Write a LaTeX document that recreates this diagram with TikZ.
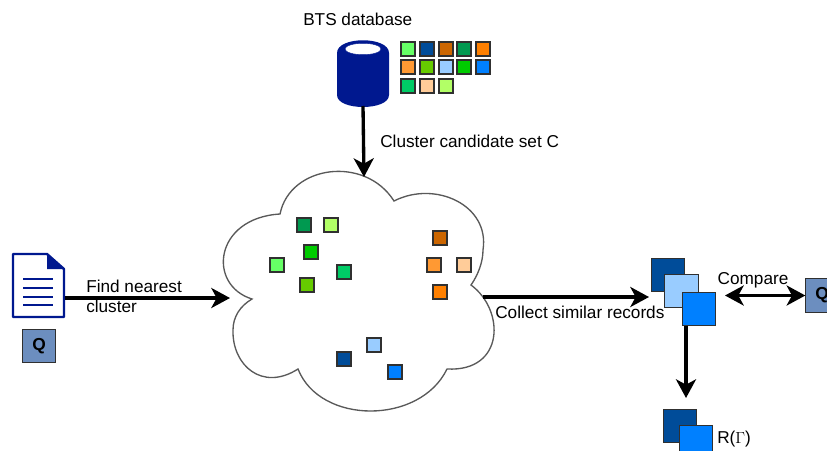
\documentclass[tikz,border=0pt]{standalone}
\usepackage{fontspec}
\setmainfont{Liberation Sans}
\usetikzlibrary{arrows.meta,shapes.geometric}
\definecolor{cA}{HTML}{66FF66}
\definecolor{cB}{HTML}{004C99}
\definecolor{cC}{HTML}{CC6600}
\definecolor{cD}{HTML}{009950}
\definecolor{cE}{HTML}{FF8000}
\definecolor{cF}{HTML}{FF9933}
\definecolor{cG}{HTML}{66CC00}
\definecolor{cH}{HTML}{99CCFF}
\definecolor{cI}{HTML}{00CC00}
\definecolor{cJ}{HTML}{0080FF}
\definecolor{cK}{HTML}{00CC66}
\definecolor{cL}{HTML}{FFCC99}
\definecolor{cM}{HTML}{B2FF66}
\definecolor{navy}{HTML}{00188F}
\definecolor{qblue}{HTML}{6C8EBF}
\definecolor{edge}{HTML}{303030}
\tikzset{
  cell/.style={rectangle,draw=edge,line width=1.1pt,minimum size=10.2pt,inner sep=0pt,outer sep=0pt},
  big/.style={rectangle,draw=edge,line width=0.9pt,minimum size=25pt,inner sep=0pt,outer sep=0pt},
  lab/.style={inner sep=0pt,font=\fontsize{12.9pt}{15pt}\selectfont},
  flow/.style={line width=2.5pt,-{Stealth[length=14pt,width=15pt,inset=4pt]}},
  both/.style={line width=2.5pt,{Stealth[length=14pt,width=15pt,inset=4pt]}-{Stealth[length=14pt,width=15pt,inset=4pt]}},
}
\begin{document}
\begin{tikzpicture}[x=0.75pt,y=-0.75pt]
\useasboundingbox (0,0) rectangle (827,450);
\clip (0,0) rectangle (827,450);
% cloud
\draw[line width=1pt,draw=black!65,fill=white]
  (252,299) .. controls (207,285) and (214,218) .. (280,214)
  .. controls (290,165) and (365,155) .. (394,201)
  .. controls (435,180) and (490,205) .. (483,250)
  .. controls (483,262) and (478,275) .. (471,285)
  .. controls (505,310) and (505,372) .. (447,369)
  .. controls (420,425) and (320,425) .. (298,369)
  .. controls (262,392) and (232,365) .. (233,330)
  .. controls (233,317) and (240,306) .. (252,299) -- cycle;
\coordinate (cloudW) at (230,298);
\coordinate (cloudN) at (364,177);
\coordinate (cloudE) at (483,297);
% database
\fill[navy] (337,53) .. controls (337,36) and (389,36) .. (389,53) -- (389,95)
  .. controls (389,111) and (337,111) .. (337,95) -- cycle;
\node[ellipse,fill=white,draw=navy,line width=0.3pt,minimum width=27pt,minimum height=8.5pt,inner sep=0pt] (holeDb) at (363,49) {};
\coordinate (dbS) at (363,106);
\node[lab,anchor=base west] (dbLabel) at (303,25) {BTS database};
% palette
\node[cell,fill=cA] (p1) at (408,49) {};
\node[cell,fill=cB] (p2) at (427,49) {};
\node[cell,fill=cC] (p3) at (446,49) {};
\node[cell,fill=cD] (p4) at (464,49) {};
\node[cell,fill=cE] (p5) at (483,49) {};
\node[cell,fill=cF] (p6) at (408,67) {};
\node[cell,fill=cG] (p7) at (427,67) {};
\node[cell,fill=cH] (p8) at (446,67) {};
\node[cell,fill=cI] (p9) at (464,67) {};
\node[cell,fill=cJ] (p10) at (483,67) {};
\node[cell,fill=cK] (p11) at (408,86) {};
\node[cell,fill=cL] (p12) at (427,86) {};
\node[cell,fill=cM] (p13) at (446,86) {};
% cloud contents
\node[cell,fill=cD] (q1) at (304,225) {};
\node[cell,fill=cM] (q2) at (331,225) {};
\node[cell,fill=cI] (q3) at (311,252) {};
\node[cell,fill=cA] (q4) at (277,265) {};
\node[cell,fill=cK] (q5) at (344,272) {};
\node[cell,fill=cG] (q6) at (307,285) {};
\node[cell,fill=cC] (q7) at (440,238) {};
\node[cell,fill=cF] (q8) at (434,265) {};
\node[cell,fill=cL] (q9) at (464,265) {};
\node[cell,fill=cE] (q10) at (440,292) {};
\node[cell,fill=cH] (q11) at (374,345) {};
\node[cell,fill=cB] (q12) at (344,359) {};
\node[cell,fill=cJ] (q13) at (395,372) {};
% document icon
\draw[navy,line width=1.8pt,fill=white,line join=round] (13,254) -- (47,254) -- (64,269) -- (64,317) -- (13,317) -- cycle;
\fill[navy] (47,254) -- (64,269) -- (47,269) -- cycle;
\draw[navy,line width=2pt] (23,279) -- (53,279) (23,288) -- (53,288) (23,297) -- (53,297) (23,305) -- (53,305);
\coordinate (docE) at (65,298);
% Q boxes
\node[big,fill=qblue,font=\bfseries\fontsize{13pt}{15pt}\selectfont] (qa) at (39,346) {Q};
\node[big,fill=qblue,font=\bfseries\fontsize{13pt}{15pt}\selectfont] (qb) at (822,295.5) {Q};
% stacks
\node[big,fill=cB] (s1) at (668,275) {};
\node[big,fill=cH] (s2) at (681.5,291) {};
\node[big,fill=cJ] (s3) at (699,309) {};
\node[big,fill=cB] (r1) at (680,426) {};
\node[big,fill=cJ] (r2) at (696,442) {};
\coordinate (sW) at (649,297);
\coordinate (sE) at (725,295.5);
\coordinate (rN) at (686,398);
% connectors
\draw[flow] (docE) -- (cloudW);
\draw[flow] (dbS) -- (cloudN);
\draw[flow] (cloudE) -- (sW);
\draw[both] (sE) -- (qb.west);
\draw[flow] (s3.south -| rN) -- (rN);
% labels
\node[lab,anchor=base west] (l1) at (86,292) {Find nearest};
\node[lab,anchor=base west] (l2) at (86,312) {cluster};
\node[lab,anchor=base west] (l3) at (380,147) {Cluster candidate set C};
\node[lab,anchor=base west] (l4) at (495,318) {Collect similar records};
\node[lab,anchor=base] (l5) at (753,284) {Compare};
\node[lab,anchor=base west] (l6) at (717,443) {R($\Gamma$)};
\end{tikzpicture}
\end{document}
